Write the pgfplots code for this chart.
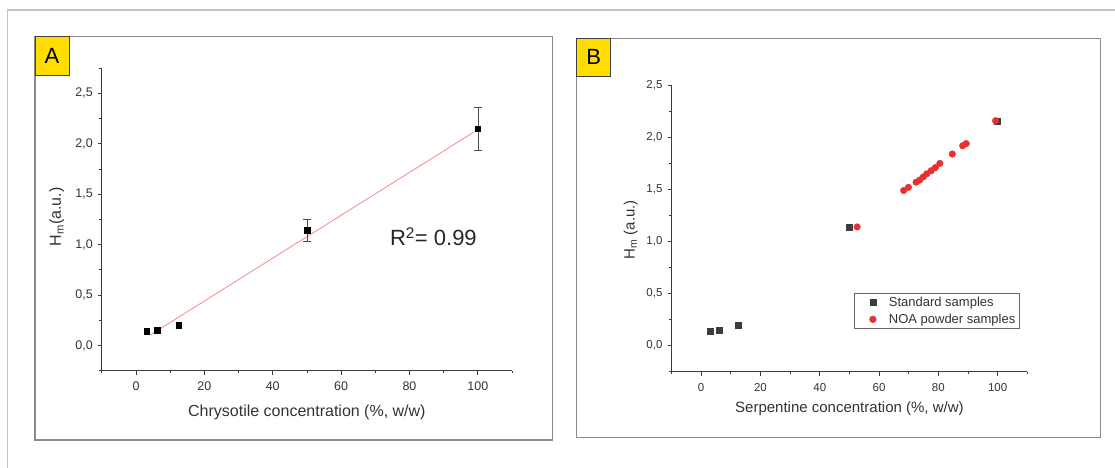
\documentclass[border=0pt]{standalone}
\usepackage{pgfplots}
\pgfplotsset{compat=1.18}
\usepackage{pgfplotstable}
\usepackage{fontspec}
\setmainfont{Liberation Sans}

\definecolor{axgray}{HTML}{3A3A3A}
\definecolor{labgray}{HTML}{333333}
\definecolor{boxgray}{HTML}{8A8A8A}
\definecolor{framegray}{HTML}{C4C4C4}
\definecolor{labyellow}{HTML}{FFDD00}
\definecolor{fitred}{HTML}{F08A8A}
\definecolor{noared}{HTML}{E8302E}
\definecolor{stdgray}{HTML}{3C3C3C}

\pgfplotstableread{
x y e
50 1.14 0.11
100 2.15 0.215
}\dataAerr
\pgfplotstableread{
x y
3.125 0.14
6.25 0.15
12.5 0.20
}\dataAlow
\pgfplotstableread{
x y
4.3 0.107
100 2.14
}\dataAfit
\pgfplotstableread{
x y
3.125 0.14
6.25 0.15
12.5 0.20
50 1.14
100 2.16
}\dataBstd
\pgfplotstableread{
x y
52.6 1.14
68.3 1.49
69.9 1.52
72.5 1.57
73.7 1.59
74.9 1.62
76.1 1.65
77.6 1.68
79.0 1.71
80.5 1.75
84.7 1.84
88.2 1.92
89.4 1.94
99.3 2.16
}\dataBnoa

\pgfplotsset{
  myaxis/.style={
    scale only axis,
    axis lines=left,
    axis line style={-, draw=axgray, line width=0.9pt},
    tick align=outside,
    major tick length=4pt,
    minor tick length=2.5pt,
    every tick/.style={axgray, line width=0.8pt},
    xmin=-10, xmax=110,
    xtick={0,20,...,100},
    minor xtick={-10,10,...,110},
    ytick={0,0.5,...,2.5},
    /pgf/number format/assume math mode=true,
    tick label style={text=labgray},
    xticklabel style={yshift=-4pt},
    yticklabel style={xshift=-1.5pt, /pgf/number format/.cd, fixed, fixed zerofill, precision=1, use comma},
    label style={text=labgray},
    clip=false,
  },
  myleg/.style={legend image code/.code={\path[draw=none,fill=none] (0pt,-3pt) rectangle (31pt,3pt);\draw[mark repeat=2,mark phase=2,##1] plot coordinates {(0pt,0pt)(17pt,0pt)(31pt,0pt)};}},
}

\begin{document}
\begin{tikzpicture}
\useasboundingbox (0pt,0pt) rectangle (1115pt,467pt);
% outer frame
\draw[framegray, line width=1.5pt] (7.5pt,-10pt) -- (7.5pt,457pt) -- (1125pt,457pt);
% panel boxes
\draw[boxgray, line width=1.2pt] (35pt,27pt) rectangle (552.3pt,430.3pt);
\draw[boxgray, line width=1.2pt] (576.6pt,29.3pt) rectangle (1100.5pt,428.7pt);
% panel labels
\draw[fill=labyellow, draw=black!75, line width=0.8pt] (35pt,392pt) rectangle (69pt,430.3pt);
\node[font=\fontsize{22}{24}\selectfont] at (52pt,411pt) {A};
\draw[fill=labyellow, draw=black!75, line width=0.8pt] (576.6pt,391pt) rectangle (610.6pt,428.7pt);
\node[font=\fontsize{22}{24}\selectfont] at (593.6pt,410pt) {B};

% ---------- Panel A ----------
\begin{axis}[myaxis,
  at={(101.8pt,96.3pt)}, anchor=south west,
  width=410.2pt, height=302.7pt,
  ymin=-0.25, ymax=2.75,
  minor ytick={-0.25,0.25,...,2.75},
  tick label style={font=\fontsize{12.5}{14}\selectfont},
  label style={font=\fontsize{16}{18}\selectfont},
  xlabel={Chrysotile concentration (\%, w/w)},
  ylabel={H\textsubscript{m}(a.u.)},
  xlabel style={at={(axis description cs:0.5,-0.1364)}, anchor=center},
  ylabel style={at={(axis description cs:-0.1097,0.508)}, anchor=center},
]
\addplot[fitred, line width=0.8pt, mark=none] table[x=x,y=y] {\dataAfit};
\addplot[only marks, mark=square*, mark size=2.8pt, black,
  error bars/.cd, y dir=both, y explicit,
  error bar style={black!70, line width=0.6pt},
  error mark options={black!70, line width=0.6pt, mark size=4.3pt, rotate=90}]
  table[x=x,y=y,y error=e] {\dataAerr};
\addplot[only marks, mark=square*, mark size=2.8pt, black] table[x=x,y=y] {\dataAlow};
\node[font=\fontsize{22}{24}\selectfont, text=black!85, anchor=center] at (axis cs:87,1.08) {R\textsuperscript{2}= 0.99};
\end{axis}

% ---------- Panel B ----------
\begin{axis}[myaxis,
  at={(671.5pt,95.3pt)}, anchor=south west,
  width=355.8pt, height=286.4pt,
  ymin=-0.25, ymax=2.5,
  minor ytick={-0.25,0.25,...,2.25},
  tick label style={font=\fontsize{11.5}{13}\selectfont},
  label style={font=\fontsize{15}{17}\selectfont},
  xlabel={Serpentine concentration (\%, w/w)},
  ylabel={H\textsubscript{m} (a.u.)},
  xlabel style={at={(axis description cs:0.5,-0.1278)}, anchor=center},
  ylabel style={at={(axis description cs:-0.1144,0.495)}, anchor=center},
  legend style={at={(axis description cs:0.977,0.276)}, anchor=north east,
    draw=black!60, line width=0.6pt, font=\fontsize{13}{15}\selectfont,
    text=labgray, inner xsep=1.5pt, inner ysep=2pt, row sep=2pt},
  legend cell align=left,
]
\addplot[only marks, mark=square*, mark size=3pt, stdgray, myleg] table[x=x,y=y] {\dataBstd};
\addlegendentry{Standard samples}
\addplot[only marks, mark=*, mark size=3.3pt, noared, myleg] table[x=x,y=y] {\dataBnoa};
\addlegendentry{NOA powder samples}
\end{axis}
\end{tikzpicture}
\end{document}
